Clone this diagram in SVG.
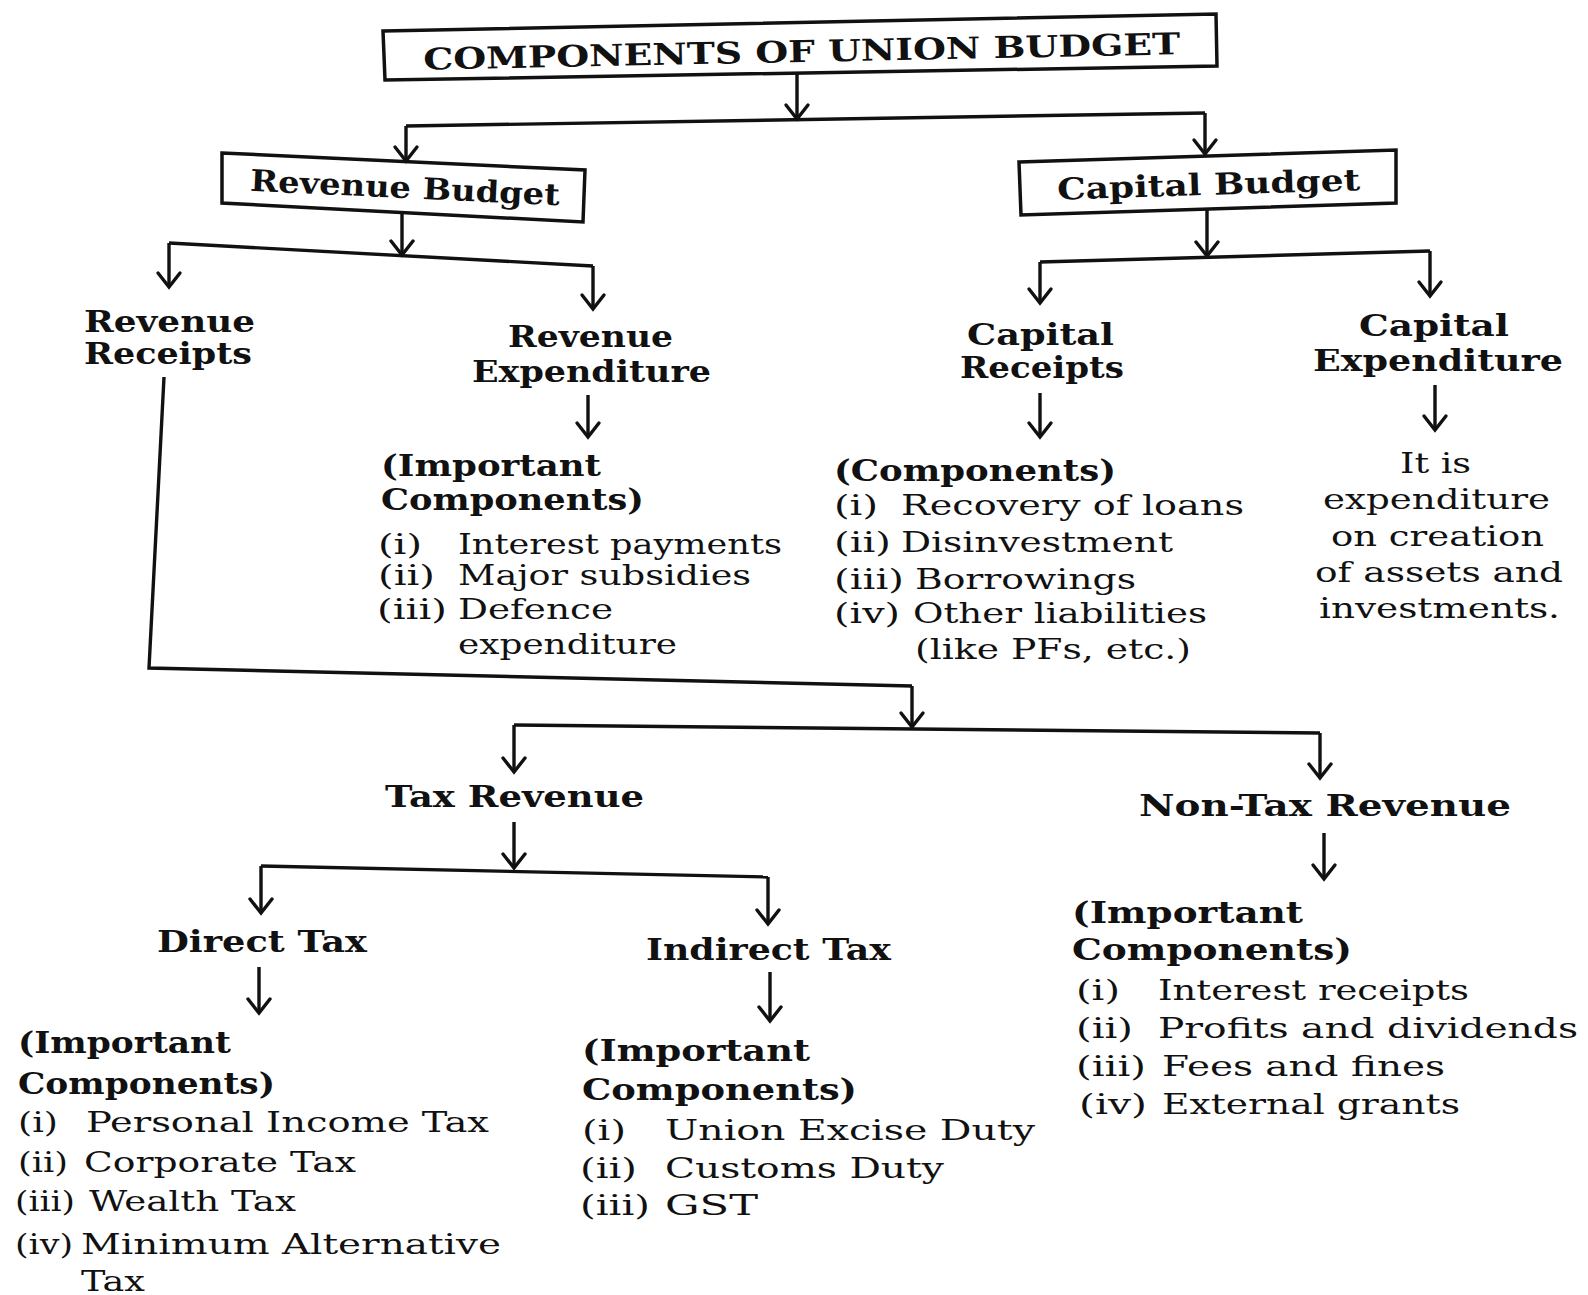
<svg xmlns="http://www.w3.org/2000/svg" width="1588" height="1295" viewBox="0 0 1588 1295">
<style>
text{fill:#111;font-family:"DejaVu Serif","Liberation Serif",serif}
.ttl{font-weight:bold;font-size:30px}
.h{font-weight:bold;font-size:30px}
.s{font-weight:bold;font-size:29px}
.t{font-size:28px}
.box{fill:none;stroke:#111;stroke-width:3.5;stroke-linejoin:miter}
.c{fill:none;stroke:#111;stroke-width:3.4}
.a{fill:none;stroke:#111;stroke-width:3.4;marker-end:url(#arr)}
</style>
<defs>
<marker id="arr" viewBox="-16 -12 18 24" refX="0" refY="0" markerWidth="18" markerHeight="24" markerUnits="userSpaceOnUse" orient="auto" overflow="visible">
<path d="M-14,-11 L0,0 L-14,11" fill="none" stroke="#111" stroke-width="3.4" stroke-linecap="round"/>
</marker>
</defs>
<rect width="1588" height="1295" fill="#fff"/>

<g id="connectors">
<path class="a" d="M797,73 L797,119"/>
<path class="c" d="M406,126 L1205,113"/>
<path class="a" d="M406,126 L406,161"/>
<path class="a" d="M1205,113 L1205,154"/>
<path class="a" d="M402,212 L402,255"/>
<path class="c" d="M169,243 L593,266"/>
<path class="a" d="M169,243 L169,287"/>
<path class="a" d="M593,266 L593,309"/>
<path class="a" d="M1207,209 L1207,256"/>
<path class="c" d="M1040,262 L1430,251"/>
<path class="a" d="M1040,262 L1040,303"/>
<path class="a" d="M1430,251 L1430,296"/>
<path class="a" d="M588,395 L588,437"/>
<path class="a" d="M1040,393 L1040,437"/>
<path class="a" d="M1435,385 L1435,430"/>
<path class="c" d="M164,377 L149,668 L912,686"/>
<path class="a" d="M912,686 L912,727"/>
<path class="c" d="M514,725 L1320,733"/>
<path class="a" d="M514,725 L514,772"/>
<path class="a" d="M1320,733 L1320,778"/>
<path class="a" d="M514,822 L514,868"/>
<path class="c" d="M261,866 L768,877"/>
<path class="a" d="M261,866 L261,913"/>
<path class="a" d="M768,877 L768,924"/>
<path class="a" d="M259,967 L259,1013"/>
<path class="a" d="M770,972 L770,1021"/>
<path class="a" d="M1324,833 L1324,879"/>
</g>

<g id="title">
<polygon class="box" points="383,31 1216,14 1217,66 385,80"/>
<text class="ttl" x="423" y="62" textLength="757" lengthAdjust="spacingAndGlyphs" transform="rotate(-1.17 800 47)">COMPONENTS OF UNION BUDGET</text>
</g>

<g id="revenue-budget">
<polygon class="box" points="222,153 585,170 583,222 222,203"/>
<text class="h" x="250" y="198" textLength="310" lengthAdjust="spacingAndGlyphs" transform="rotate(2.68 403 188)">Revenue Budget</text>
</g>

<g id="capital-budget">
<polygon class="box" points="1019,162 1396,150 1396,203 1021,215"/>
<text class="h" x="1057" y="195" textLength="303" lengthAdjust="spacingAndGlyphs" transform="rotate(-1.8 1207 182)">Capital Budget</text>
</g>

<g id="revenue-receipts">
<text class="h" x="84" y="332" textLength="171" lengthAdjust="spacingAndGlyphs">Revenue</text>
<text class="h" x="84" y="364" textLength="168" lengthAdjust="spacingAndGlyphs">Receipts</text>
</g>

<g id="revenue-expenditure">
<text class="h" x="508" y="347" textLength="165" lengthAdjust="spacingAndGlyphs">Revenue</text>
<text class="h" x="472" y="382" textLength="239" lengthAdjust="spacingAndGlyphs">Expenditure</text>
</g>

<g id="revenue-expenditure-components">
<text class="s" x="381" y="476" textLength="220" lengthAdjust="spacingAndGlyphs">(Important</text>
<text class="s" x="381" y="510" textLength="263" lengthAdjust="spacingAndGlyphs">Components)</text>
<text class="t" x="378" y="554" textLength="44" lengthAdjust="spacingAndGlyphs">(i)</text>
<text class="t" x="458" y="554" textLength="324" lengthAdjust="spacingAndGlyphs">Interest payments</text>
<text class="t" x="378" y="585" textLength="57" lengthAdjust="spacingAndGlyphs">(ii)</text>
<text class="t" x="458" y="585" textLength="293" lengthAdjust="spacingAndGlyphs">Major subsidies</text>
<text class="t" x="377" y="619" textLength="70" lengthAdjust="spacingAndGlyphs">(iii)</text>
<text class="t" x="458" y="619" textLength="155" lengthAdjust="spacingAndGlyphs">Defence</text>
<text class="t" x="458" y="654" textLength="219" lengthAdjust="spacingAndGlyphs">expenditure</text>
</g>

<g id="capital-receipts">
<text class="h" x="967" y="345" textLength="147" lengthAdjust="spacingAndGlyphs">Capital</text>
<text class="h" x="960" y="378" textLength="164" lengthAdjust="spacingAndGlyphs">Receipts</text>
</g>

<g id="capital-receipts-components">
<text class="s" x="834" y="481" textLength="282" lengthAdjust="spacingAndGlyphs">(Components)</text>
<text class="t" x="834" y="515" textLength="44" lengthAdjust="spacingAndGlyphs">(i)</text>
<text class="t" x="901" y="515" textLength="343" lengthAdjust="spacingAndGlyphs">Recovery of loans</text>
<text class="t" x="834" y="552" textLength="57" lengthAdjust="spacingAndGlyphs">(ii)</text>
<text class="t" x="901" y="552" textLength="272" lengthAdjust="spacingAndGlyphs">Disinvestment</text>
<text class="t" x="834" y="589" textLength="70" lengthAdjust="spacingAndGlyphs">(iii)</text>
<text class="t" x="915" y="589" textLength="221" lengthAdjust="spacingAndGlyphs">Borrowings</text>
<text class="t" x="834" y="623" textLength="66" lengthAdjust="spacingAndGlyphs">(iv)</text>
<text class="t" x="913" y="623" textLength="294" lengthAdjust="spacingAndGlyphs">Other liabilities</text>
<text class="t" x="915" y="659" textLength="276" lengthAdjust="spacingAndGlyphs">(like PFs, etc.)</text>
</g>

<g id="capital-expenditure">
<text class="h" x="1359" y="336" textLength="150" lengthAdjust="spacingAndGlyphs">Capital</text>
<text class="h" x="1313" y="371" textLength="250" lengthAdjust="spacingAndGlyphs">Expenditure</text>
</g>

<g id="capital-expenditure-desc">
<text class="t" x="1400" y="473" textLength="71" lengthAdjust="spacingAndGlyphs">It is</text>
<text class="t" x="1323" y="509" textLength="227" lengthAdjust="spacingAndGlyphs">expenditure</text>
<text class="t" x="1331" y="546" textLength="213" lengthAdjust="spacingAndGlyphs">on creation</text>
<text class="t" x="1315" y="582" textLength="248" lengthAdjust="spacingAndGlyphs">of assets and</text>
<text class="t" x="1319" y="618" textLength="241" lengthAdjust="spacingAndGlyphs">investments.</text>
</g>

<g id="tax-revenue">
<text class="h" x="385" y="807" textLength="259" lengthAdjust="spacingAndGlyphs">Tax Revenue</text>
</g>

<g id="non-tax-revenue">
<text class="h" x="1139" y="816" textLength="372" lengthAdjust="spacingAndGlyphs">Non-Tax Revenue</text>
</g>

<g id="non-tax-components">
<text class="s" x="1072" y="923" textLength="231" lengthAdjust="spacingAndGlyphs">(Important</text>
<text class="s" x="1072" y="960" textLength="280" lengthAdjust="spacingAndGlyphs">Components)</text>
<text class="t" x="1076" y="1000" textLength="44" lengthAdjust="spacingAndGlyphs">(i)</text>
<text class="t" x="1158" y="1000" textLength="311" lengthAdjust="spacingAndGlyphs">Interest receipts</text>
<text class="t" x="1076" y="1038" textLength="57" lengthAdjust="spacingAndGlyphs">(ii)</text>
<text class="t" x="1158" y="1038" textLength="420" lengthAdjust="spacingAndGlyphs">Profits and dividends</text>
<text class="t" x="1076" y="1076" textLength="70" lengthAdjust="spacingAndGlyphs">(iii)</text>
<text class="t" x="1162" y="1076" textLength="283" lengthAdjust="spacingAndGlyphs">Fees and fines</text>
<text class="t" x="1079" y="1114" textLength="68" lengthAdjust="spacingAndGlyphs">(iv)</text>
<text class="t" x="1162" y="1114" textLength="298" lengthAdjust="spacingAndGlyphs">External grants</text>
</g>

<g id="direct-tax">
<text class="h" x="157" y="952" textLength="210" lengthAdjust="spacingAndGlyphs">Direct Tax</text>
</g>

<g id="direct-tax-components">
<text class="s" x="18" y="1053" textLength="213" lengthAdjust="spacingAndGlyphs">(Important</text>
<text class="s" x="18" y="1094" textLength="257" lengthAdjust="spacingAndGlyphs">Components)</text>
<text class="t" x="18" y="1132" textLength="40" lengthAdjust="spacingAndGlyphs">(i)</text>
<text class="t" x="86" y="1132" textLength="403" lengthAdjust="spacingAndGlyphs">Personal Income Tax</text>
<text class="t" x="18" y="1172" textLength="50" lengthAdjust="spacingAndGlyphs">(ii)</text>
<text class="t" x="84" y="1172" textLength="272" lengthAdjust="spacingAndGlyphs">Corporate Tax</text>
<text class="t" x="15" y="1211" textLength="60" lengthAdjust="spacingAndGlyphs">(iii)</text>
<text class="t" x="89" y="1211" textLength="207" lengthAdjust="spacingAndGlyphs">Wealth Tax</text>
<text class="t" x="15" y="1254" textLength="58" lengthAdjust="spacingAndGlyphs">(iv)</text>
<text class="t" x="81" y="1254" textLength="420" lengthAdjust="spacingAndGlyphs">Minimum Alternative</text>
<text class="t" x="81" y="1291" textLength="64" lengthAdjust="spacingAndGlyphs">Tax</text>
</g>

<g id="indirect-tax">
<text class="h" x="646" y="960" textLength="245" lengthAdjust="spacingAndGlyphs">Indirect Tax</text>
</g>

<g id="indirect-tax-components">
<text class="s" x="582" y="1061" textLength="228" lengthAdjust="spacingAndGlyphs">(Important</text>
<text class="s" x="582" y="1100" textLength="275" lengthAdjust="spacingAndGlyphs">Components)</text>
<text class="t" x="582" y="1140" textLength="44" lengthAdjust="spacingAndGlyphs">(i)</text>
<text class="t" x="665" y="1140" textLength="370" lengthAdjust="spacingAndGlyphs">Union Excise Duty</text>
<text class="t" x="580" y="1178" textLength="57" lengthAdjust="spacingAndGlyphs">(ii)</text>
<text class="t" x="665" y="1178" textLength="279" lengthAdjust="spacingAndGlyphs">Customs Duty</text>
<text class="t" x="580" y="1215" textLength="70" lengthAdjust="spacingAndGlyphs">(iii)</text>
<text class="t" x="665" y="1215" textLength="93" lengthAdjust="spacingAndGlyphs">GST</text>
</g>
</svg>
